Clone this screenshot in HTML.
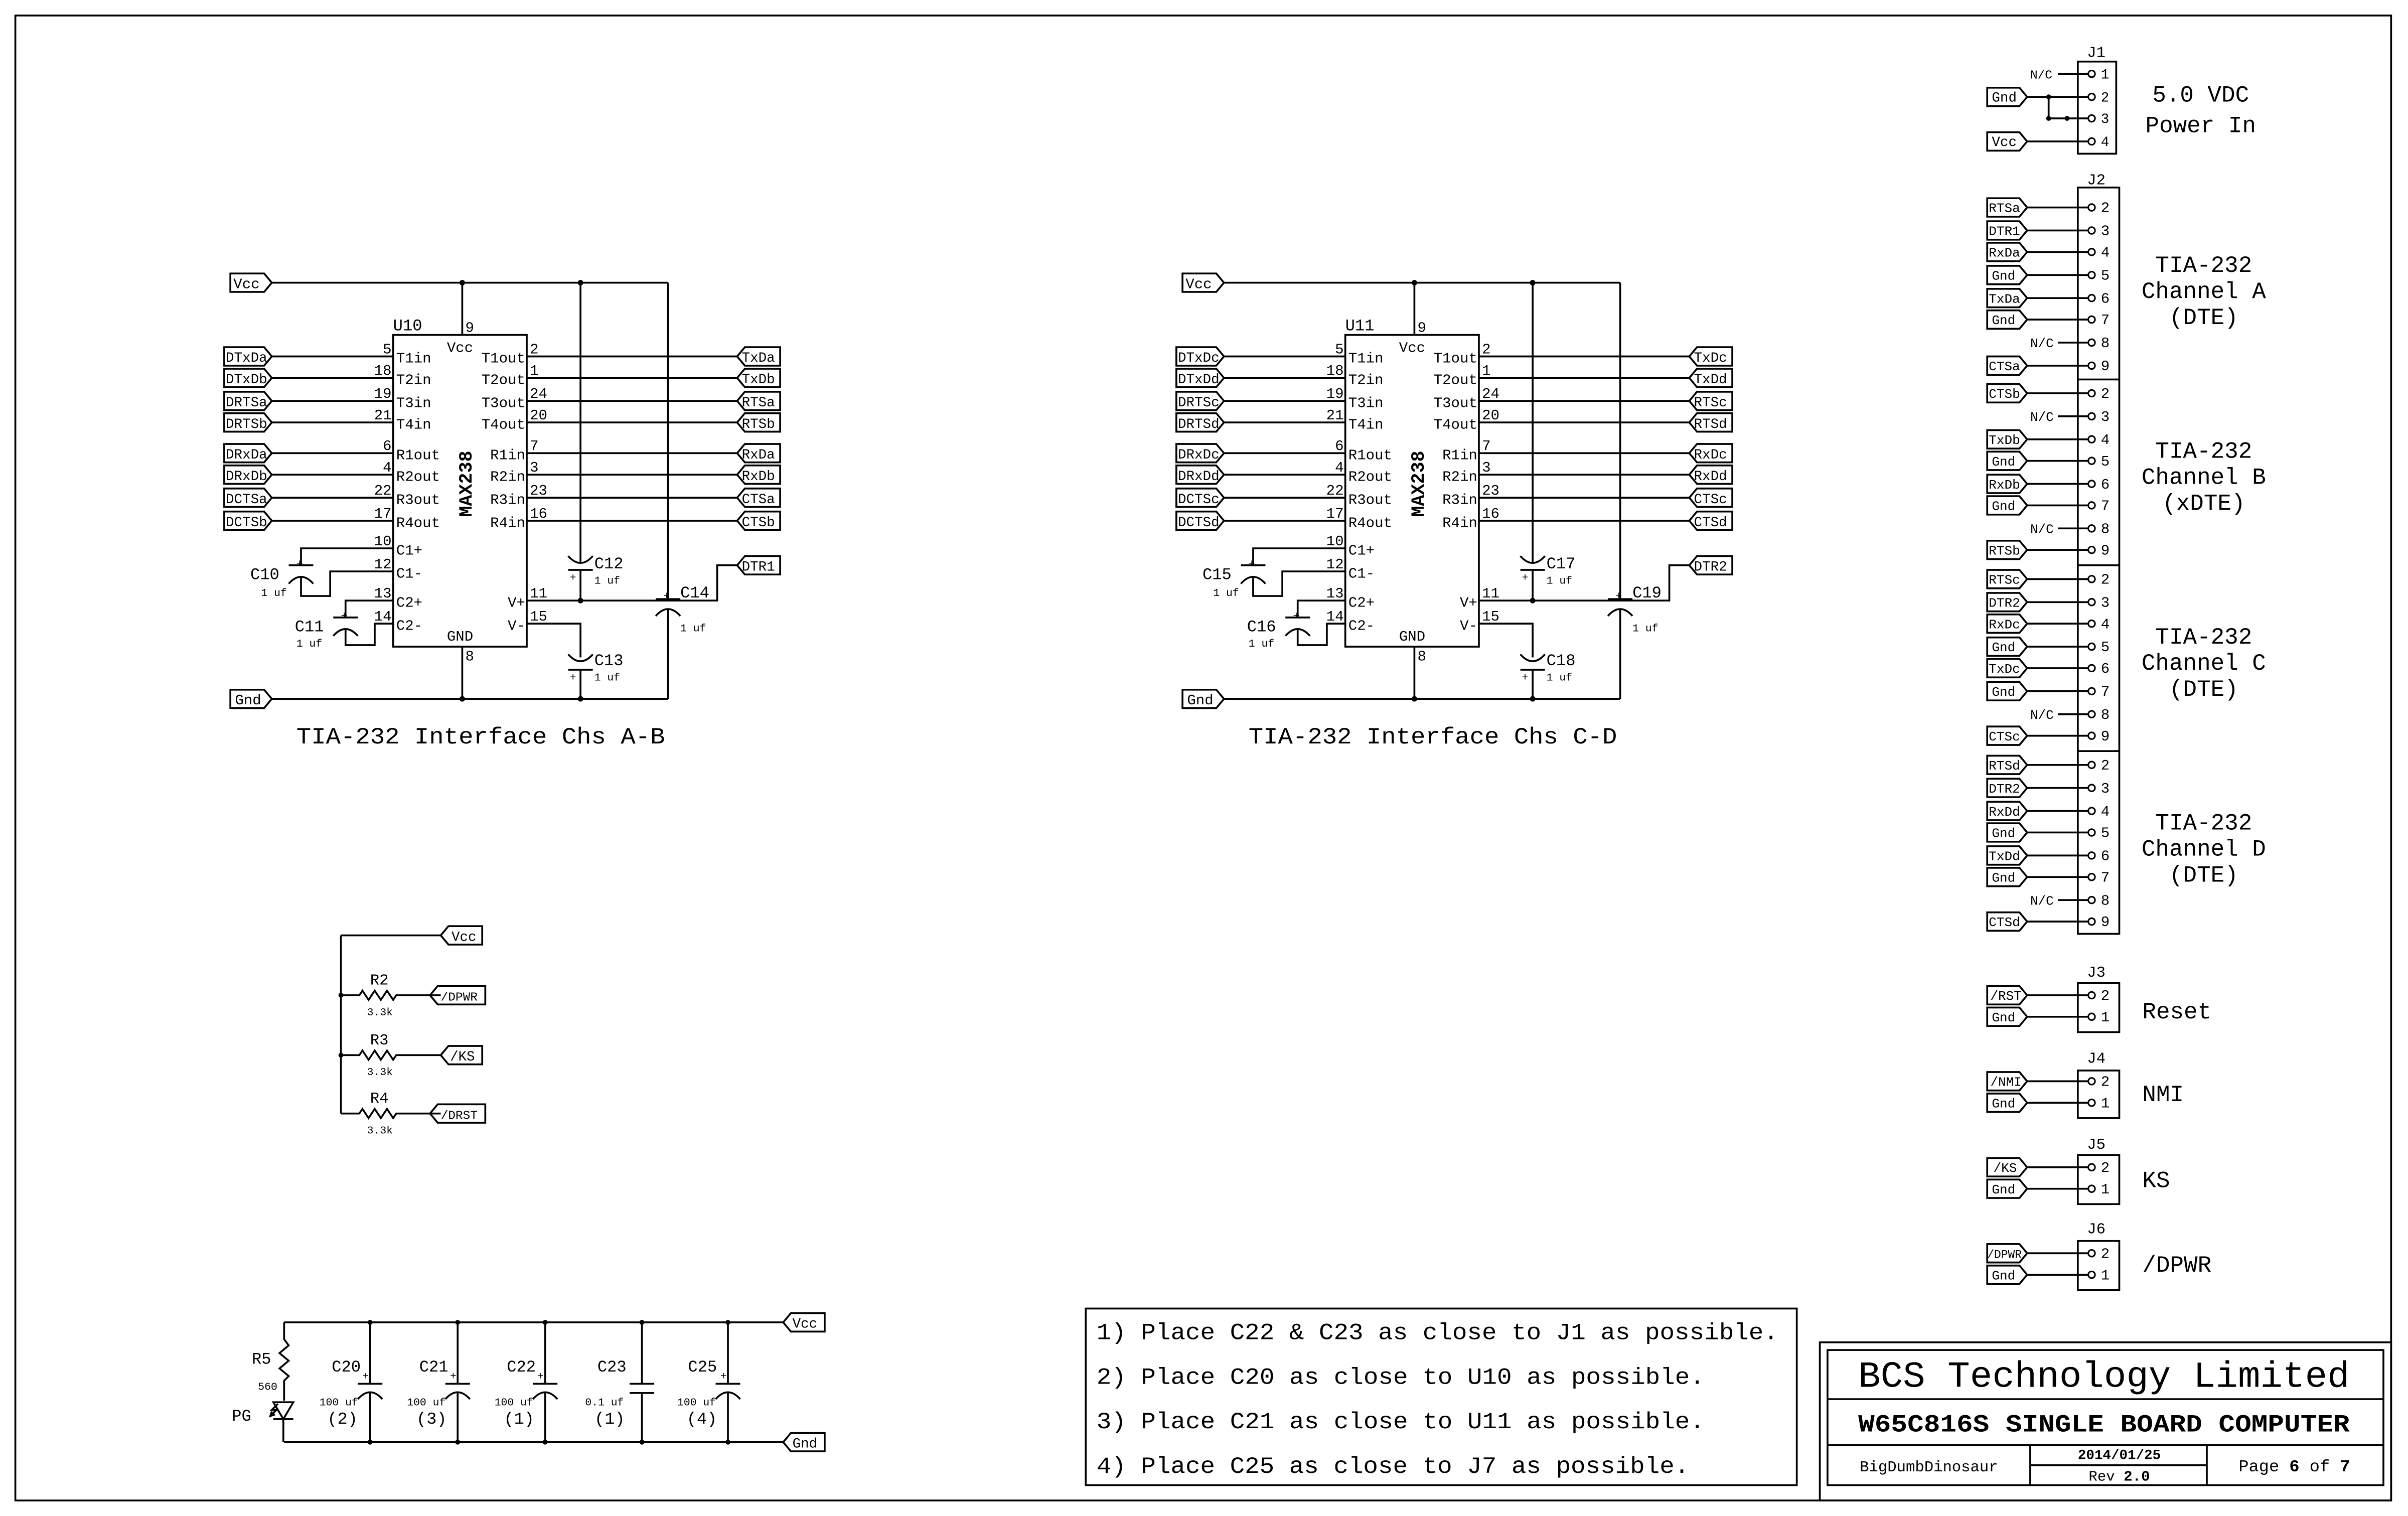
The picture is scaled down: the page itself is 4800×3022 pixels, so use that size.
<!DOCTYPE html>
<html><head><meta charset="utf-8"><style>
html,body{margin:0;padding:0;background:#fff}
svg{display:block}
text{font-family:"Liberation Mono",monospace;fill:#000}
</style></head><body>
<svg width="4800" height="3022" viewBox="0 0 1568 987" xmlns="http://www.w3.org/2000/svg">
<defs>
<g id="blk">
 <g fill="none" stroke="#000" stroke-width="1.2">
  <path d="M177 184H435M301 184V218M177 455H435M301 421V455"/>
  <rect x="256" y="218" width="87" height="203"/>
  <path d="M177 232H256M177 246H256M177 261H256M177 275H256M177 295H256M177 309H256M177 324H256M177 339H256"/>
  <path d="M343 232H480M343 246H480M343 261H480M343 275H480M343 295H480M343 309H480M343 324H480M343 339H480"/>
  <path d="M256 357H196V368M188 368H204M188 380Q196 371 204 380M196 376V388H215V372H256"/>
  <path d="M256 391H225V402M217 402H233M217 414Q225 405 233 414M225 410V420H244V406H256"/>
  <path d="M343 391H467V368H480"/>
  <path d="M378 184V366M370 362Q378 371 386 362M370 371H386M378 371V391"/>
  <path d="M343 406H378V428M370 426Q378 435 386 426M370 436H386M378 436V455"/>
  <path d="M435 184V390M427 390H443M427 401Q435 392 443 401M435 397V455"/>
  <path d="M150 178H172L177 184L172 190H150ZM150 449H172L177 455L172 461H150Z"/>
  <path d="M146 226H172L177 232L172 238H146ZM146 240H172L177 246L172 252H146ZM146 255H172L177 261L172 267H146ZM146 269H172L177 275L172 281H146ZM146 289H172L177 295L172 301H146ZM146 303H172L177 309L172 315H146ZM146 318H172L177 324L172 330H146ZM146 333H172L177 339L172 345H146Z"/>
  <path d="M485 226H508V238H485L480 232ZM485 240H508V252H485L480 246ZM485 255H508V267H485L480 261ZM485 269H508V281H485L480 275ZM485 289H508V301H485L480 295ZM485 303H508V315H485L480 309ZM485 318H508V330H485L480 324ZM485 333H508V345H485L480 339ZM485 362H508V374H485L480 368Z"/>
 </g>
 <g fill="#000"><circle cx="301" cy="184" r="1.8"/><circle cx="378" cy="184" r="1.8"/><circle cx="378" cy="391" r="1.8"/><circle cx="301" cy="455" r="1.8"/><circle cx="378" cy="455" r="1.8"/></g>
 <g font-size="9.5">
  <text x="152" y="187.5">Vcc</text><text x="153" y="458.5">Gnd</text>
  <text x="303" y="216">9</text><text x="291" y="229">Vcc</text><text x="303" y="430">8</text><text x="291" y="417">GND</text>
  <g text-anchor="end"><text x="255" y="230">5</text><text x="255" y="244">18</text><text x="255" y="259">19</text><text x="255" y="273">21</text><text x="255" y="293">6</text><text x="255" y="307">4</text><text x="255" y="322">22</text><text x="255" y="337">17</text><text x="255" y="355">10</text><text x="255" y="370">12</text><text x="255" y="389">13</text><text x="255" y="404">14</text>
  <text x="342" y="236">T1out</text><text x="342" y="250">T2out</text><text x="342" y="265">T3out</text><text x="342" y="279">T4out</text><text x="342" y="299">R1in</text><text x="342" y="313">R2in</text><text x="342" y="328">R3in</text><text x="342" y="343">R4in</text><text x="342" y="395">V+</text><text x="342" y="410">V-</text></g>
  <text x="258" y="236">T1in</text><text x="258" y="250">T2in</text><text x="258" y="265">T3in</text><text x="258" y="279">T4in</text><text x="258" y="299">R1out</text><text x="258" y="313">R2out</text><text x="258" y="328">R3out</text><text x="258" y="343">R4out</text><text x="258" y="361">C1+</text><text x="258" y="376">C1-</text><text x="258" y="395">C2+</text><text x="258" y="410">C2-</text>
  <text x="345" y="230">2</text><text x="345" y="244">1</text><text x="345" y="259">24</text><text x="345" y="273">20</text><text x="345" y="293">7</text><text x="345" y="307">3</text><text x="345" y="322">23</text><text x="345" y="337">16</text><text x="345" y="389">11</text><text x="345" y="404">15</text>
 </g>
 <text x="0" y="0" font-size="12" font-weight="bold" text-anchor="middle" transform="translate(307 315) rotate(-90)">MAX238</text>
 <g font-size="7"><text x="170" y="388">1 uf</text><text x="193" y="421">1 uf</text><text x="387" y="380">1 uf</text><text x="387" y="443">1 uf</text><text x="443" y="411">1 uf</text>
 <text x="193" y="369">+</text><text x="222" y="403">+</text><text x="371" y="378">+</text><text x="371" y="443">+</text><text x="432" y="390">+</text></g>
</g>
</defs>

<rect x="10" y="10" width="1547" height="967" fill="none" stroke="#000" stroke-width="1.2"/>

<!-- Block A-B -->
<use href="#blk"/>
<g font-size="10.5"><text x="256" y="215">U10</text><text x="387" y="370">C12</text><text x="387" y="433">C13</text><text x="443" y="389">C14</text><text x="163" y="377">C10</text><text x="192" y="411">C11</text></g>
<g font-size="9">
<text x="147" y="235.5">DTxDa</text><text x="147" y="249.5">DTxDb</text><text x="147" y="264.5">DRTSa</text><text x="147" y="278.5">DRTSb</text><text x="147" y="298.5">DRxDa</text><text x="147" y="312.5">DRxDb</text><text x="147" y="327.5">DCTSa</text><text x="147" y="342.5">DCTSb</text>
<text x="483" y="235.5">TxDa</text><text x="483" y="249.5">TxDb</text><text x="483" y="264.5">RTSa</text><text x="483" y="278.5">RTSb</text><text x="483" y="298.5">RxDa</text><text x="483" y="312.5">RxDb</text><text x="483" y="327.5">CTSa</text><text x="483" y="342.5">CTSb</text><text x="483" y="371.5">DTR1</text>
</g>
<text x="193" y="484" font-size="15" textLength="240" lengthAdjust="spacingAndGlyphs">TIA-232 Interface Chs A-B</text>

<!-- Block C-D -->
<use href="#blk" x="620"/>
<g font-size="10.5"><text x="876" y="215">U11</text><text x="1007" y="370">C17</text><text x="1007" y="433">C18</text><text x="1063" y="389">C19</text><text x="783" y="377">C15</text><text x="812" y="411">C16</text></g>
<g font-size="9">
<text x="767" y="235.5">DTxDc</text><text x="767" y="249.5">DTxDd</text><text x="767" y="264.5">DRTSc</text><text x="767" y="278.5">DRTSd</text><text x="767" y="298.5">DRxDc</text><text x="767" y="312.5">DRxDd</text><text x="767" y="327.5">DCTSc</text><text x="767" y="342.5">DCTSd</text>
<text x="1103" y="235.5">TxDc</text><text x="1103" y="249.5">TxDd</text><text x="1103" y="264.5">RTSc</text><text x="1103" y="278.5">RTSd</text><text x="1103" y="298.5">RxDc</text><text x="1103" y="312.5">RxDd</text><text x="1103" y="327.5">CTSc</text><text x="1103" y="342.5">CTSd</text><text x="1103" y="371.5">DTR2</text>
</g>
<text x="813" y="484" font-size="15" textLength="240" lengthAdjust="spacingAndGlyphs">TIA-232 Interface Chs C-D</text>

<!-- Connectors -->
<g fill="none" stroke="#000" stroke-width="1.2">
 <rect x="1353" y="40" width="25" height="60"/>
 <rect x="1353" y="122" width="27" height="486"/>
 <path d="M1353 247H1380M1353 368H1380M1353 489H1380"/>
 <rect x="1353" y="640" width="27" height="32"/>
 <rect x="1353" y="697" width="27" height="31"/>
 <rect x="1353" y="752" width="27" height="32"/>
 <rect x="1353" y="808" width="27" height="32"/>
 <path d="M1340 48H1360M1320 63H1360M1334 63V77H1360M1320 92H1360"/>
 <path d="M1294 57H1315L1320 63L1315 69H1294ZM1294 86H1315L1320 92L1315 98H1294Z"/>
</g>
<g fill="#000"><circle cx="1334" cy="63" r="1.6"/><circle cx="1334" cy="77" r="1.6"/><circle cx="1346" cy="77" r="1.6"/></g>
<g fill="#fff" stroke="#000" stroke-width="1"><circle cx="1362" cy="48" r="2.2"/><circle cx="1362" cy="63" r="2.2"/><circle cx="1362" cy="77" r="2.2"/><circle cx="1362" cy="92" r="2.2"/></g>
<g font-size="9"><text x="1297" y="66">Gnd</text><text x="1297" y="95">Vcc</text><text x="1322" y="51" font-size="8">N/C</text>
<text x="1368" y="51">1</text><text x="1368" y="66">2</text><text x="1368" y="80">3</text><text x="1368" y="95">4</text></g>
<g font-size="10"><text x="1359" y="37">J1</text><text x="1359" y="120">J2</text><text x="1359" y="636">J3</text><text x="1359" y="692">J4</text><text x="1359" y="748">J5</text><text x="1359" y="803">J6</text></g>
<g font-size="15" text-anchor="middle"><text x="1433" y="66">5.0 VDC</text><text x="1433" y="86">Power In</text>
<text x="1435" y="177">TIA-232</text><text x="1435" y="194">Channel A</text><text x="1435" y="211">(DTE)</text>
<text x="1435" y="298">TIA-232</text><text x="1435" y="315">Channel B</text><text x="1435" y="332">(xDTE)</text>
<text x="1435" y="419">TIA-232</text><text x="1435" y="436">Channel C</text><text x="1435" y="453">(DTE)</text>
<text x="1435" y="540">TIA-232</text><text x="1435" y="557">Channel D</text><text x="1435" y="574">(DTE)</text></g>
<g font-size="15"><text x="1395" y="663">Reset</text><text x="1395" y="717">NMI</text><text x="1395" y="773">KS</text><text x="1395" y="828">/DPWR</text></g>

<g fill="none" stroke="#000" stroke-width="1.2">
<path d="M1320 135H1360M1320 150H1360M1320 164H1360M1320 179H1360M1320 194H1360M1320 208H1360M1340 223H1360M1320 238H1360
M1320 256H1360M1340 271H1360M1320 286H1360M1320 300H1360M1320 315H1360M1320 329H1360M1340 344H1360M1320 358H1360
M1320 377H1360M1320 392H1360M1320 406H1360M1320 421H1360M1320 435H1360M1320 450H1360M1340 465H1360M1320 479H1360
M1320 498H1360M1320 513H1360M1320 528H1360M1320 542H1360M1320 557H1360M1320 571H1360M1340 586H1360M1320 600H1360
M1320 648H1360M1320 662H1360M1320 704H1360M1320 718H1360M1320 760H1360M1320 774H1360M1320 816H1360M1320 830H1360"/>
<path d="M1294 129H1315L1320 135L1315 141H1294ZM1294 144H1315L1320 150L1315 156H1294ZM1294 158H1315L1320 164L1315 170H1294ZM1294 173H1315L1320 179L1315 185H1294ZM1294 188H1315L1320 194L1315 200H1294ZM1294 202H1315L1320 208L1315 214H1294ZM1294 232H1315L1320 238L1315 244H1294Z
M1294 250H1315L1320 256L1315 262H1294ZM1294 280H1315L1320 286L1315 292H1294ZM1294 294H1315L1320 300L1315 306H1294ZM1294 309H1315L1320 315L1315 321H1294ZM1294 323H1315L1320 329L1315 335H1294ZM1294 352H1315L1320 358L1315 364H1294Z
M1294 371H1315L1320 377L1315 383H1294ZM1294 386H1315L1320 392L1315 398H1294ZM1294 400H1315L1320 406L1315 412H1294ZM1294 415H1315L1320 421L1315 427H1294ZM1294 429H1315L1320 435L1315 441H1294ZM1294 444H1315L1320 450L1315 456H1294ZM1294 473H1315L1320 479L1315 485H1294Z
M1294 492H1315L1320 498L1315 504H1294ZM1294 507H1315L1320 513L1315 519H1294ZM1294 522H1315L1320 528L1315 534H1294ZM1294 536H1315L1320 542L1315 548H1294ZM1294 551H1315L1320 557L1315 563H1294ZM1294 565H1315L1320 571L1315 577H1294ZM1294 594H1315L1320 600L1315 606H1294Z
M1294 642H1315L1320 648L1315 654H1294ZM1294 656H1315L1320 662L1315 668H1294ZM1294 698H1315L1320 704L1315 710H1294ZM1294 712H1315L1320 718L1315 724H1294ZM1294 754H1315L1320 760L1315 766H1294ZM1294 768H1315L1320 774L1315 780H1294ZM1294 810H1315L1320 816L1315 822H1294ZM1294 824H1315L1320 830L1315 836H1294Z"/>
</g>
<g fill="#fff" stroke="#000" stroke-width="1">
<circle cx="1362" cy="135" r="2.2"/><circle cx="1362" cy="150" r="2.2"/><circle cx="1362" cy="164" r="2.2"/><circle cx="1362" cy="179" r="2.2"/><circle cx="1362" cy="194" r="2.2"/><circle cx="1362" cy="208" r="2.2"/><circle cx="1362" cy="223" r="2.2"/><circle cx="1362" cy="238" r="2.2"/>
<circle cx="1362" cy="256" r="2.2"/><circle cx="1362" cy="271" r="2.2"/><circle cx="1362" cy="286" r="2.2"/><circle cx="1362" cy="300" r="2.2"/><circle cx="1362" cy="315" r="2.2"/><circle cx="1362" cy="329" r="2.2"/><circle cx="1362" cy="344" r="2.2"/><circle cx="1362" cy="358" r="2.2"/>
<circle cx="1362" cy="377" r="2.2"/><circle cx="1362" cy="392" r="2.2"/><circle cx="1362" cy="406" r="2.2"/><circle cx="1362" cy="421" r="2.2"/><circle cx="1362" cy="435" r="2.2"/><circle cx="1362" cy="450" r="2.2"/><circle cx="1362" cy="465" r="2.2"/><circle cx="1362" cy="479" r="2.2"/>
<circle cx="1362" cy="498" r="2.2"/><circle cx="1362" cy="513" r="2.2"/><circle cx="1362" cy="528" r="2.2"/><circle cx="1362" cy="542" r="2.2"/><circle cx="1362" cy="557" r="2.2"/><circle cx="1362" cy="571" r="2.2"/><circle cx="1362" cy="586" r="2.2"/><circle cx="1362" cy="600" r="2.2"/>
<circle cx="1362" cy="648" r="2.2"/><circle cx="1362" cy="662" r="2.2"/><circle cx="1362" cy="704" r="2.2"/><circle cx="1362" cy="718" r="2.2"/><circle cx="1362" cy="760" r="2.2"/><circle cx="1362" cy="774" r="2.2"/><circle cx="1362" cy="816" r="2.2"/><circle cx="1362" cy="830" r="2.2"/>
</g>
<g font-size="8.5">
<text x="1295" y="138">RTSa</text><text x="1295" y="153">DTR1</text><text x="1295" y="167">RxDa</text><text x="1297" y="182">Gnd</text><text x="1295" y="197">TxDa</text><text x="1297" y="211">Gnd</text><text x="1322" y="226">N/C</text><text x="1295" y="241">CTSa</text>
<text x="1295" y="259">CTSb</text><text x="1322" y="274">N/C</text><text x="1295" y="289">TxDb</text><text x="1297" y="303">Gnd</text><text x="1295" y="318">RxDb</text><text x="1297" y="332">Gnd</text><text x="1322" y="347">N/C</text><text x="1295" y="361">RTSb</text>
<text x="1295" y="380">RTSc</text><text x="1295" y="395">DTR2</text><text x="1295" y="409">RxDc</text><text x="1297" y="424">Gnd</text><text x="1295" y="438">TxDc</text><text x="1297" y="453">Gnd</text><text x="1322" y="468">N/C</text><text x="1295" y="482">CTSc</text>
<text x="1295" y="501">RTSd</text><text x="1295" y="516">DTR2</text><text x="1295" y="531">RxDd</text><text x="1297" y="545">Gnd</text><text x="1295" y="560">TxDd</text><text x="1297" y="574">Gnd</text><text x="1322" y="589">N/C</text><text x="1295" y="603">CTSd</text>
<text x="1296" y="651">/RST</text><text x="1297" y="665">Gnd</text><text x="1296" y="707">/NMI</text><text x="1297" y="721">Gnd</text><text x="1298" y="763">/KS</text><text x="1297" y="777">Gnd</text><text x="1294" y="819" font-size="7.5">/DPWR</text><text x="1297" y="833">Gnd</text>
</g>
<g font-size="9.5">
<text x="1368" y="138">2</text><text x="1368" y="153">3</text><text x="1368" y="167">4</text><text x="1368" y="182">5</text><text x="1368" y="197">6</text><text x="1368" y="211">7</text><text x="1368" y="226">8</text><text x="1368" y="241">9</text>
<text x="1368" y="259">2</text><text x="1368" y="274">3</text><text x="1368" y="289">4</text><text x="1368" y="303">5</text><text x="1368" y="318">6</text><text x="1368" y="332">7</text><text x="1368" y="347">8</text><text x="1368" y="361">9</text>
<text x="1368" y="380">2</text><text x="1368" y="395">3</text><text x="1368" y="409">4</text><text x="1368" y="424">5</text><text x="1368" y="438">6</text><text x="1368" y="453">7</text><text x="1368" y="468">8</text><text x="1368" y="482">9</text>
<text x="1368" y="501">2</text><text x="1368" y="516">3</text><text x="1368" y="531">4</text><text x="1368" y="545">5</text><text x="1368" y="560">6</text><text x="1368" y="574">7</text><text x="1368" y="589">8</text><text x="1368" y="603">9</text>
<text x="1368" y="651">2</text><text x="1368" y="665">1</text><text x="1368" y="707">2</text><text x="1368" y="721">1</text><text x="1368" y="763">2</text><text x="1368" y="777">1</text><text x="1368" y="819">2</text><text x="1368" y="833">1</text>
</g>

<!-- Resistor pull-ups -->
<g fill="none" stroke="#000" stroke-width="1.2">
<path d="M222 609H287M222 609V725"/>
<path d="M222 648H234l2-3 4 6 4-6 4 6 4-6 4 6 2-3H287"/>
<path d="M222 687H234l2-3 4 6 4-6 4 6 4-6 4 6 2-3H287"/>
<path d="M222 725H234l2-3 4 6 4-6 4 6 4-6 4 6 2-3H287"/>
<path d="M292 603H314V615H292L287 609ZM285 642H316V654H285L280 648ZM292 681H314V693H292L287 687ZM285 719H316V731H285L280 725Z"/>
</g>
<g fill="#000"><circle cx="222" cy="648" r="1.6"/><circle cx="222" cy="687" r="1.6"/></g>
<g font-size="9"><text x="294" y="612.5">Vcc</text><text x="287" y="651.5" font-size="8">/DPWR</text><text x="293" y="690.5">/KS</text><text x="287" y="728.5" font-size="8">/DRST</text></g>
<g font-size="10"><text x="241" y="641">R2</text><text x="241" y="680">R3</text><text x="241" y="718">R4</text></g>
<g font-size="7"><text x="239" y="661">3.3k</text><text x="239" y="700">3.3k</text><text x="239" y="738">3.3k</text></g>

<!-- Bypass caps -->
<g fill="none" stroke="#000" stroke-width="1.2">
<path d="M185 861H510M185 939H510M185 861V872l3 4-6 5 6 5-6 5 6 5-3 3V912M178 913H191L184.5 924ZM178 924H191M184.5 924V939"/>
<path d="M181 914l-4 4 3 0-4 4M179 921l-3 1 1-3"/>
<path d="M241 861V901M233 901H249M233 911Q241 902 249 911M241 907V939"/>
<path d="M298 861V901M290 901H306M290 911Q298 902 306 911M298 907V939"/>
<path d="M355 861V901M347 901H363M347 911Q355 902 363 911M355 907V939"/>
<path d="M418 861V901M410 901H426M410 907H426M418 907V939"/>
<path d="M474 861V901M466 901H482M466 911Q474 902 482 911M474 907V939"/>
<path d="M515 855H537V867H515L510 861ZM515 933H537V945H515L510 939Z"/>
</g>
<g fill="#000"><circle cx="241" cy="861" r="1.6"/><circle cx="298" cy="861" r="1.6"/><circle cx="355" cy="861" r="1.6"/><circle cx="418" cy="861" r="1.6"/><circle cx="474" cy="861" r="1.6"/>
<circle cx="241" cy="939" r="1.6"/><circle cx="298" cy="939" r="1.6"/><circle cx="355" cy="939" r="1.6"/><circle cx="418" cy="939" r="1.6"/><circle cx="474" cy="939" r="1.6"/></g>
<g font-size="9"><text x="516" y="864.5">Vcc</text><text x="516" y="942.5">Gnd</text></g>
<g font-size="10.5"><text x="164" y="888">R5</text><text x="151" y="925">PG</text><text x="216" y="893">C20</text><text x="273" y="893">C21</text><text x="330" y="893">C22</text><text x="389" y="893">C23</text><text x="448" y="893">C25</text></g>
<g font-size="7"><text x="168" y="905">560</text><text x="208" y="915">100 uf</text><text x="265" y="915">100 uf</text><text x="322" y="915">100 uf</text><text x="381" y="915">0.1 uf</text><text x="441" y="915">100 uf</text>
<text x="236" y="898">+</text><text x="293" y="898">+</text><text x="350" y="898">+</text><text x="469" y="898">+</text></g>
<g font-size="11" text-anchor="middle"><text x="223" y="927">(2)</text><text x="281" y="927">(3)</text><text x="338" y="927">(1)</text><text x="397" y="927">(1)</text><text x="457" y="927">(4)</text></g>

<!-- Notes -->
<rect x="707" y="852" width="463" height="115" fill="none" stroke="#000" stroke-width="1.2"/>
<g font-size="15" lengthAdjust="spacingAndGlyphs"><text x="714" y="872" textLength="444" lengthAdjust="spacingAndGlyphs">1) Place C22 &amp; C23 as close to J1 as possible.</text>
<text x="714" y="901" textLength="396" lengthAdjust="spacingAndGlyphs">2) Place C20 as close to U10 as possible.</text>
<text x="714" y="930" textLength="396" lengthAdjust="spacingAndGlyphs">3) Place C21 as close to U11 as possible.</text>
<text x="714" y="959" textLength="386" lengthAdjust="spacingAndGlyphs">4) Place C25 as close to J7 as possible.</text></g>

<!-- Title block -->
<g fill="none" stroke="#000" stroke-width="1.2">
<rect x="1185" y="874" width="372" height="103"/>
<rect x="1190" y="879" width="362" height="88"/>
<path d="M1190 911H1552M1190 941H1552M1322 941V967M1437 941V967M1322 954H1437"/>
</g>
<text x="1210" y="903" font-size="24" textLength="320" lengthAdjust="spacingAndGlyphs">BCS Technology Limited</text>
<text x="1210" y="932" font-size="16" font-weight="bold" textLength="320" lengthAdjust="spacingAndGlyphs">W65C816S SINGLE BOARD COMPUTER</text>
<text x="1256" y="958" font-size="10" text-anchor="middle">BigDumbDinosaur</text>
<text x="1380" y="950" font-size="9" font-weight="bold" text-anchor="middle">2014/01/25</text>
<text x="1380" y="964" font-size="9.5" text-anchor="middle">Rev <tspan font-weight="bold">2.0</tspan></text>
<text x="1494" y="958" font-size="11" text-anchor="middle">Page <tspan font-weight="bold">6</tspan> of <tspan font-weight="bold">7</tspan></text>
</svg>
</body></html>
